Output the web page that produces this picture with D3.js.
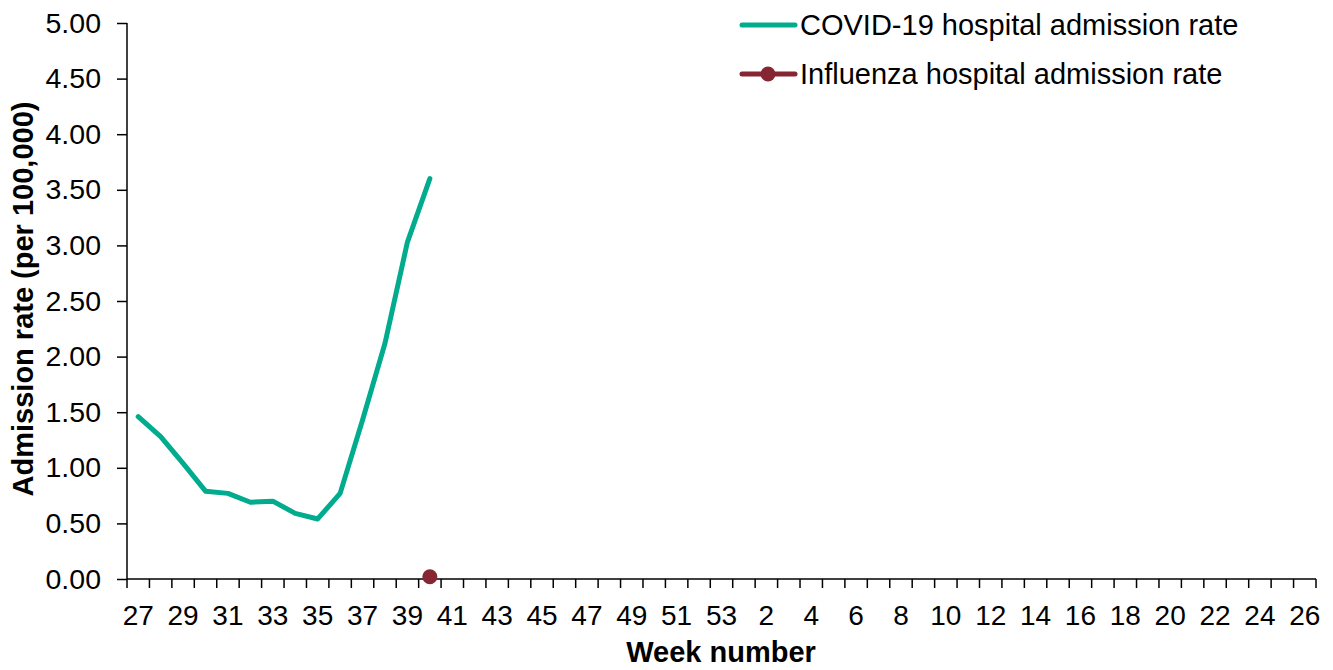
<!DOCTYPE html>
<html><head><meta charset="utf-8">
<script src="https://cdn.jsdelivr.net/npm/d3@7"></script>
<style>body{margin:0;background:#fff}svg{display:block}text{font-family:"Liberation Sans",Arial,sans-serif;fill:#000}</style>
</head><body>
<svg id="c" width="1333" height="670"></svg>
<script>
const weeks = [27,28,29,30,31,32,33,34,35,36,37,38,39,40,41,42,43,44,45,46,47,48,49,50,51,52,53,1,2,3,4,5,6,7,8,9,10,11,12,13,14,15,16,17,18,19,20,21,22,23,24,25,26];
const covidWeeks = [27,28,29,30,31,32,33,34,35,36,37,38,39,40];
const covidRate = [1.46,1.28,1.04,0.79,0.77,0.69,0.70,0.59,0.54,0.77,1.43,2.12,3.03,3.60];
const fluWeeks = [40];
const fluRate = [0.02];
const yTicks = [0,0.5,1,1.5,2,2.5,3,3.5,4,4.5,5];
const seriesNames = ["COVID-19 hospital admission rate","Influenza hospital admission rate"];
const colors = ["#00AB8E","#862633"];

const svg = d3.select("#c");
const L=127, R=1316, T=23, B=579;
const x = d3.scaleBand().domain(weeks).range([L,R]).padding(0);
const y = d3.scaleLinear().domain([0,5]).range([B,T]);
const cx = w => x(w)+x.bandwidth()/2;

// y axis
const ya = svg.append("g").attr("transform",`translate(${L},0)`)
  .call(d3.axisLeft(y).tickValues(yTicks).tickFormat(d3.format(".2f")).tickSize(10).tickPadding(16));
ya.select(".domain").attr("stroke","#000").attr("stroke-width",1.5).attr("d",`M0,${T}V${B}`);
ya.selectAll(".tick line").attr("stroke","#000").attr("stroke-width",1.5);
ya.selectAll(".tick text").attr("font-size",28.5).attr("font-family","Liberation Sans, Arial").attr("fill","#000");

// x axis with ticks at category boundaries
const xg = svg.append("g").attr("transform",`translate(0,${B})`);
xg.append("line").attr("x1",L).attr("x2",R).attr("y1",0).attr("y2",0).attr("stroke","#000").attr("stroke-width",1.5);
const bounds = weeks.map(w=>x(w)).concat([R]);
xg.selectAll("line.tk").data(bounds).join("line").attr("class","tk")
  .attr("x1",d=>d).attr("x2",d=>d).attr("y1",0).attr("y2",9).attr("stroke","#000").attr("stroke-width",1.5);
xg.selectAll("text").data(weeks.filter((w,i)=>i%2===0)).join("text")
  .attr("x",d=>cx(d)).attr("y",46).attr("text-anchor","middle").attr("font-size",28).text(d=>d);

// titles
svg.append("text").attr("x",721).attr("y",662).attr("text-anchor","middle").attr("font-size",29).attr("font-weight","bold").text("Week number");
svg.append("text").attr("transform","translate(33,299) rotate(-90)").attr("text-anchor","middle").attr("font-size",29).attr("font-weight","bold").text("Admission rate (per 100,000)");

// covid line
const line = d3.line().x(d=>cx(d[0])).y(d=>y(d[1]));
svg.append("path").datum(covidWeeks.map((w,i)=>[w,covidRate[i]]))
  .attr("d",line).attr("fill","none").attr("stroke",colors[0]).attr("stroke-width",5).attr("stroke-linejoin","round").attr("stroke-linecap","round");
// flu
const fluData = fluWeeks.map((w,i)=>[w,fluRate[i]]);
svg.append("path").datum(fluData).attr("d",line).attr("fill","none").attr("stroke",colors[1]).attr("stroke-width",5);
svg.selectAll("circle.flu").data(fluData).join("circle").attr("class","flu")
  .attr("cx",d=>cx(d[0])).attr("cy",d=>y(d[1])).attr("r",7.5).attr("fill",colors[1]);

// legend
const lg = svg.append("g");
[0,1].forEach(i=>{
  const ly = 25 + i*49;
  lg.append("line").attr("x1",742).attr("x2",795).attr("y1",ly).attr("y2",ly).attr("stroke",colors[i]).attr("stroke-width",5).attr("stroke-linecap","round");
  if(i===1) lg.append("circle").attr("cx",768).attr("cy",ly).attr("r",7.5).attr("fill",colors[i]);
  lg.append("text").attr("x",800).attr("y",ly+10).attr("font-size",29).text(seriesNames[i]);
});
</script>
</body></html>
